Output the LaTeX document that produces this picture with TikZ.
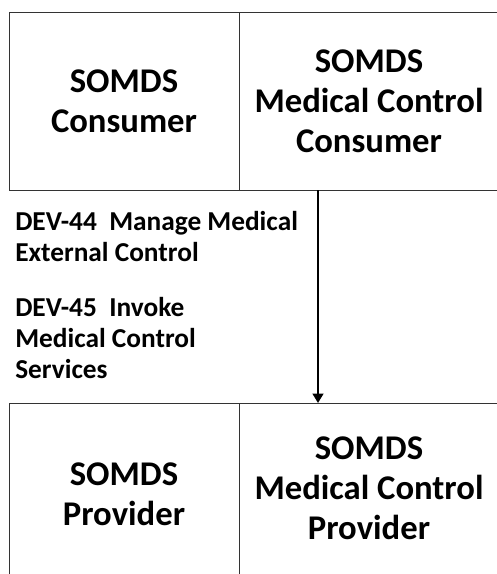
\documentclass[tikz,border=0pt]{standalone}
\usepackage{fontspec}
\setmainfont{Carlito}
\usetikzlibrary{arrows.meta}

\tikzset{
  actorbox/.style={draw=black!80, line width=0.75pt, rectangle, inner sep=0pt, outer sep=0pt,
    align=center, font=\fontsize{26}{30}\selectfont\bfseries},
  txnlabel/.style={anchor=north west, inner sep=0pt, align=left,
    font=\fontsize{20.5}{23.25}\selectfont\bfseries}
}

\begin{document}
\begin{tikzpicture}[x=0.75pt, y=-0.75pt]

\useasboundingbox (0, 0) rectangle (496, 574);

% draw consumer boxes
\node[actorbox, minimum width=172.5pt, minimum height=132.75pt] (consumer) at (124, 101.5) {SOMDS\\Consumer};
\node[actorbox, minimum width=195pt, minimum height=132.75pt] (mcconsumer) at (369, 101.5) {SOMDS\\Medical Control\\Consumer};

% draw provider boxes
\node[actorbox, minimum width=172.5pt, minimum height=136.5pt] (provider) at (124, 494) {SOMDS\\Provider};
\node[actorbox, minimum width=195pt, minimum height=128.25pt] (mcprovider) at (369, 488.5) {SOMDS\\Medical Control\\Provider};

% draw transaction arrow
\coordinate (txnstart) at (318, 190);
\draw[line width=1.5pt, -{Triangle[width=8pt, length=7pt]}] (txnstart) -- (txnstart |- mcprovider.north);

% draw transaction labels
\node[txnlabel] (dev44) at (15, 211.5) {DEV-44\ \ Manage Medical\\External Control};
\node[txnlabel] (dev45) at (15, 297) {DEV-45\ \ Invoke\\Medical Control\\Services};

\end{tikzpicture}
\end{document}
